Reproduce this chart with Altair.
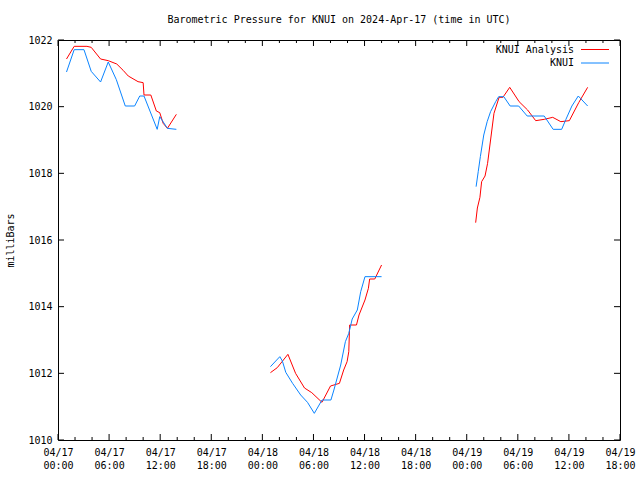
import json
import altair as alt
import pandas as pd

FONT = "DejaVu Sans Mono"

# ---- data (hours since 2024-04-17 00:00 UTC, pressure in mb) ----
ana_h1 = [1.0, 1.9, 3.4, 3.9, 5.0, 5.9, 6.9, 7.65, 8.25, 9.4, 10.0, 10.1, 10.9, 11.55, 11.95, 12.35, 12.85, 13.9]
ana_v1 = [1021.43, 1021.81, 1021.81, 1021.78, 1021.43, 1021.38, 1021.28, 1021.09, 1020.92, 1020.75, 1020.72, 1020.35, 1020.35, 1019.87, 1019.82, 1019.50, 1019.35, 1019.77]
obs_h1 = [1.0, 1.9, 3.05, 3.9, 5.0, 5.9, 6.85, 7.9, 9.0, 9.6, 10.1, 11.65, 11.95, 12.85, 13.9]
obs_v1 = [1021.04, 1021.71, 1021.71, 1021.06, 1020.74, 1021.34, 1020.81, 1020.02, 1020.02, 1020.32, 1020.32, 1019.32, 1019.70, 1019.35, 1019.32]

ana_h2 = [24.95, 25.75, 27.0, 27.9, 28.95, 29.8, 31.0, 31.45, 32.0, 33.05, 33.55, 33.95, 34.15, 34.25, 35.05, 35.35, 36.05, 36.45, 36.6, 37.2, 38.0]
ana_v2 = [1012.02, 1012.17, 1012.57, 1012.00, 1011.56, 1011.42, 1011.13, 1011.35, 1011.62, 1011.70, 1012.10, 1012.35, 1012.65, 1013.45, 1013.45, 1013.75, 1014.20, 1014.55, 1014.83, 1014.83, 1015.25]
obs_h2 = [24.95, 26.05, 26.35, 26.75, 27.55, 28.5, 29.3, 30.1, 31.0, 32.05, 32.4, 33.2, 33.75, 34.15, 34.55, 35.15, 35.55, 36.05, 38.0]
obs_v2 = [1012.20, 1012.50, 1012.37, 1012.03, 1011.70, 1011.35, 1011.13, 1010.80, 1011.20, 1011.20, 1011.50, 1012.25, 1012.95, 1013.20, 1013.63, 1013.90, 1014.45, 1014.90, 1014.90]

ana_h3 = [49.05, 49.25, 49.55, 49.75, 50.15, 50.45, 50.8, 51.2, 51.8, 52.25, 53.05, 54.15, 55.15, 56.1, 57.1, 58.1, 59.05, 60.05, 61.15, 62.2]
ana_v3 = [1016.52, 1016.96, 1017.28, 1017.75, 1017.92, 1018.30, 1019.00, 1019.80, 1020.28, 1020.28, 1020.58, 1020.15, 1019.90, 1019.58, 1019.62, 1019.68, 1019.55, 1019.58, 1020.12, 1020.58]
obs_h3 = [49.1, 49.35, 49.6, 50.0, 50.4, 50.8, 51.4, 51.75, 52.35, 53.1, 54.1, 55.1, 57.1, 58.15, 59.15, 59.65, 60.35, 61.1, 62.2]
obs_v3 = [1017.60, 1018.05, 1018.50, 1019.15, 1019.55, 1019.85, 1020.15, 1020.30, 1020.30, 1020.02, 1020.02, 1019.72, 1019.72, 1019.32, 1019.32, 1019.62, 1020.02, 1020.32, 1020.02]

series_names = ["KNUI Analysis", "KNUI"]
series_colors = ["#ff0000", "#0a84ff"]

tick_dates = ["04/17", "04/17", "04/17", "04/17", "04/18", "04/18", "04/18", "04/18",
              "04/19", "04/19", "04/19", "04/19"]
tick_times = ["00:00", "06:00", "12:00", "18:00"] * 3
major_hours = [0, 6, 12, 18, 24, 30, 36, 42, 48, 54, 60, 66]
minor_hours = [h for h in range(0, 67, 2) if h % 6 != 0]
y_ticks = [1010, 1012, 1014, 1016, 1018, 1020, 1022]

rows = []
for name, segs in [
    ("KNUI Analysis", [(ana_h1, ana_v1), (ana_h2, ana_v2), (ana_h3, ana_v3)]),
    ("KNUI", [(obs_h1, obs_v1), (obs_h2, obs_v2), (obs_h3, obs_v3)]),
]:
    for i, (hs, vs) in enumerate(segs):
        for h, v in zip(hs, vs):
            rows.append({"hour": h, "mb": v, "series": name, "seg": f"{name}-{i}"})
df = pd.DataFrame(rows)

W, H = 562, 400
x_scale = alt.Scale(domain=[0, 66], nice=False, zero=False)
y_scale = alt.Scale(domain=[1010, 1022], nice=False, zero=False)

label_expr = (f"[{json.dumps(tick_dates)}[round(datum.value/6)], "
              f"{json.dumps(tick_times)}[round(datum.value/6)]]")

lines = alt.Chart(df).mark_line(strokeWidth=1).encode(
    x=alt.X("hour:Q", scale=x_scale,
            axis=alt.Axis(values=major_hours, labelExpr=label_expr, title=None, grid=False,
                          labelPadding=7, labelLineHeight=13, labelFlush=False)),
    y=alt.Y("mb:Q", scale=y_scale,
            axis=alt.Axis(values=y_ticks, format="d", title="milliBars", grid=False,
                          labelPadding=6, titleX=-48, titleY=H / 2, titleAngle=-90,
                          titleAlign="center", titleBaseline="middle")),
    color=alt.Color("series:N", scale=alt.Scale(domain=series_names, range=series_colors),
                    legend=None),
    detail="seg:N",
    order=alt.Order("hour:Q"),
)

maj_df = pd.DataFrame({"hour": major_hours})
min_df = pd.DataFrame({"hour": minor_hours})
yt_df = pd.DataFrame({"mb": y_ticks})

def xticks(data, y0, y1):
    return alt.Chart(data).mark_rule(color="black", strokeWidth=1).encode(
        x=alt.X("hour:Q", scale=x_scale), y=alt.value(y0), y2=alt.value(y1))

def yticks(x0, x1):
    return alt.Chart(yt_df).mark_rule(color="black", strokeWidth=1).encode(
        y=alt.Y("mb:Q", scale=y_scale), x=alt.value(x0), x2=alt.value(x1))

ticks = [
    xticks(maj_df, H, H - 6), xticks(maj_df, 0, 6),
    xticks(min_df, H, H - 3), xticks(min_df, 0, 3),
    yticks(0, 6), yticks(W, W - 6),
]

legend_layers = []
for i, (name, col) in enumerate(zip(series_names, series_colors)):
    ly = 9.5 + 13.5 * i
    one = pd.DataFrame({"label": [name]})
    legend_layers.append(
        alt.Chart(one).mark_text(font=FONT, fontSize=10, align="right", baseline="middle",
                                 color="black").encode(
            text="label:N", x=alt.value(516), y=alt.value(ly)))
    legend_layers.append(
        alt.Chart(one).mark_rule(color=col, strokeWidth=1).encode(
            x=alt.value(523), x2=alt.value(551), y=alt.value(ly)))

chart = alt.layer(lines, *ticks, *legend_layers).properties(
    width=W, height=H,
    background="white",
    title=alt.TitleParams("Barometric Pressure for KNUI on 2024-Apr-17 (time in UTC)",
                          font=FONT, fontSize=10, fontWeight="normal", anchor="middle",
                          color="black", offset=10, frame="group"),
    autosize=alt.AutoSizeParams(type="none"),
    padding={"left": 58, "top": 40, "right": 20, "bottom": 40},
).configure_view(
    stroke="black", strokeWidth=1
).configure_axis(
    domain=False, ticks=False, grid=False,
    labelFont=FONT, labelFontSize=10, labelColor="black",
    titleFont=FONT, titleFontSize=10, titleFontWeight="normal", titleColor="black",
)

chart.save("out.html", embed_options={"renderer": "svg", "actions": False})
